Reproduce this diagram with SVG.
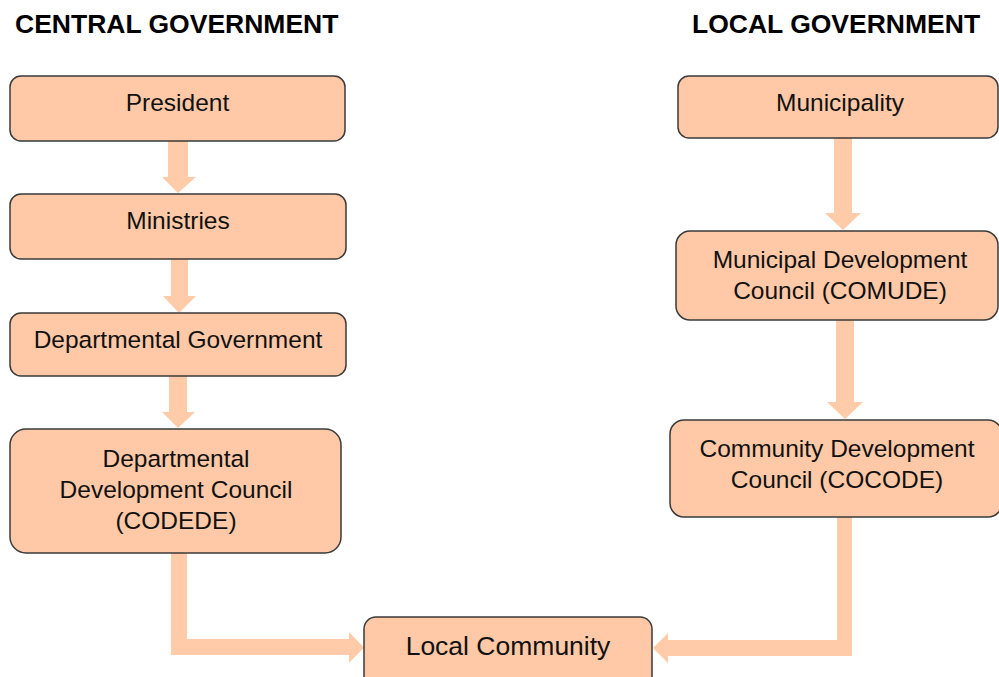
<svg xmlns="http://www.w3.org/2000/svg" width="999" height="677" viewBox="0 0 999 677">
  <style>
    .box { fill: #FFC9A7; stroke: #3a3a3a; stroke-width: 1.5; }
    .lbl { font-family: "Liberation Sans", Arial, sans-serif; font-size: 24.5px; fill: #111; text-anchor: middle; }
    .big { font-size: 26.5px; }
    .hdr { font-family: "Liberation Sans", Arial, sans-serif; font-size: 26.5px; font-weight: bold; fill: #000; }
    .arr { fill: #FFCBA9; stroke: none; }
  </style>
  <rect width="999" height="677" fill="#fff"/>

  <!-- column headings -->
  <text class="hdr" x="15" y="33">CENTRAL GOVERNMENT</text>
  <text class="hdr" x="692" y="33">LOCAL GOVERNMENT</text>

  <!-- block arrows -->
  <g id="connectors">
    <polygon class="arr" points="168,141 188,141 188,177 196,177 178,193 162,177 168,177"/>
    <polygon class="arr" points="171,259 188,259 188,296 196,296 179,313 163,296 171,296"/>
    <polygon class="arr" points="169,376 187,376 187,412 195,412 178,428 162,412 169,412"/>
    <polygon class="arr" points="834,138 852,138 852,213 861,213 843,230 825,213 834,213"/>
    <polygon class="arr" points="836,320 854,320 854,402 863,402 845,419 827,402 836,402"/>
    <polygon class="arr" points="171,553 187,553 187,639 349,639 349,632 364,647.5 349,663 349,655 171,655"/>
    <polygon class="arr" points="837,517 852,517 852,656 668,656 668,663 653,648 668,633 668,640 837,640"/>
  </g>

  <g id="president">
    <rect class="box" x="10" y="76" width="335" height="65" rx="11"/>
    <text class="lbl" x="177.5" y="111">President</text>
  </g>
  <g id="ministries">
    <rect class="box" x="10" y="194" width="336" height="65" rx="11"/>
    <text class="lbl" x="178" y="229">Ministries</text>
  </g>
  <g id="departmental-government">
    <rect class="box" x="10" y="313" width="336" height="63" rx="11"/>
    <text class="lbl" x="178" y="348">Departmental Government</text>
  </g>
  <g id="codede">
    <rect class="box" x="10" y="429" width="331" height="124" rx="16"/>
    <text class="lbl" x="176" y="467">Departmental</text>
    <text class="lbl" x="176" y="498">Development Council</text>
    <text class="lbl" x="176" y="529">(CODEDE)</text>
  </g>
  <g id="municipality">
    <rect class="box" x="678" y="76" width="320" height="62" rx="11"/>
    <text class="lbl" x="840" y="111">Municipality</text>
  </g>
  <g id="comude">
    <rect class="box" x="676" y="231" width="322" height="89" rx="14"/>
    <text class="lbl" x="840" y="268">Municipal Development</text>
    <text class="lbl" x="840" y="299">Council (COMUDE)</text>
  </g>
  <g id="cocode">
    <rect class="box" x="670" y="420" width="332" height="97" rx="14"/>
    <text class="lbl" x="837" y="457">Community Development</text>
    <text class="lbl" x="837" y="488">Council (COCODE)</text>
  </g>
  <g id="local-community">
    <rect class="box" x="364" y="617" width="288" height="75" rx="12"/>
    <text class="lbl big" x="508" y="655">Local Community</text>
  </g>
</svg>
